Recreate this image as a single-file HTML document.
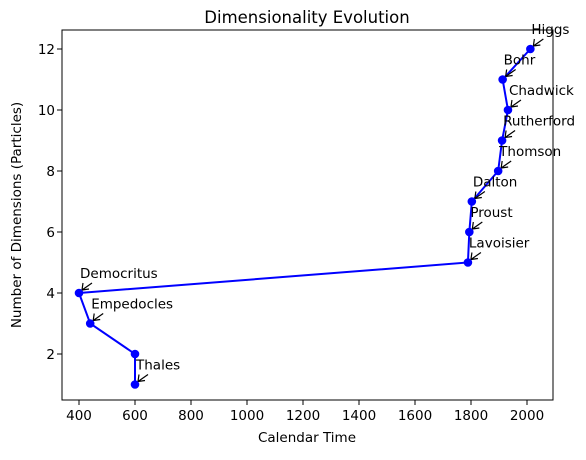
<!DOCTYPE html>
<html><head><meta charset="utf-8"><style>
body{margin:0;background:#fff;font-family:"Liberation Sans","DejaVu Sans",sans-serif;}
</style></head><body>
<svg id="chart" width="586" height="455" xmlns="http://www.w3.org/2000/svg" font-family="DejaVu Sans, Liberation Sans, sans-serif">
<rect width="586" height="455" fill="#fff"/>
<text x="307" y="23" text-anchor="middle" font-size="16.5">Dimensionality Evolution</text>
<text x="307" y="442" text-anchor="middle" font-size="13.5">Calendar Time</text>
<text transform="translate(21,215) rotate(-90)" text-anchor="middle" font-size="13.5">Number of Dimensions (Particles)</text>
<g id="ticks"></g>
<g id="series"></g>
<rect x="62" y="30" width="491" height="370" fill="none" stroke="#000" stroke-width="1"/>
</svg>
<script>
const names=["Thales","","Empedocles","Democritus","Lavoisier","Proust","Dalton","Thomson","Rutherford","Chadwick","Bohr","Higgs"];
const years=[600,600,440,400,1789,1794,1803,1897,1911,1932,1913,2012];
const dims=[1,2,3,4,5,6,7,8,9,10,11,12];
const xTicks=[400,600,800,1000,1200,1400,1600,1800,2000];
const yTicks=[2,4,6,8,10,12];
const X=v=>79+(v-400)*448/1600;
const Y=v=>415-v*30.5;
const NS="http://www.w3.org/2000/svg";
function mk(t,a,p){const e=document.createElementNS(NS,t);for(const k in a)e.setAttribute(k,a[k]);p.appendChild(e);return e;}
const tk=document.getElementById('ticks'),sr=document.getElementById('series');
xTicks.forEach(v=>{const l=mk('line',{x1:X(v),x2:X(v),y1:400,y2:405,stroke:'#000'},tk);


const t=mk('text',{x:X(v),y:420,'text-anchor':'middle','font-size':13.5},tk);t.textContent=v;

});
yTicks.forEach(v=>{const l=mk('line',{x1:57,x2:62,y1:Y(v),y2:Y(v),stroke:'#000'},tk);


const t=mk('text',{x:55,y:Y(v)+5,'text-anchor':'end','font-size':13.5},tk);t.textContent=v;

});
const pl=mk('polyline',{points:years.map((y,i)=>X(y)+','+Y(dims[i])).join(' '),fill:'none',stroke:'#0000ff','stroke-width':2},sr);


years.forEach((y,i)=>{const px=X(y),py=Y(dims[i]);
const c=mk('circle',{cx:px,cy:py,r:4.3,fill:'#0000ff'},sr);


if(!names[i])return;
const t=mk('text',{x:px+1,y:py-15,'font-size':13.5},sr);t.textContent=names[i];


const a=mk('path',{d:`M${px+13},${py-10} L${px+3},${py-3} M${px+3},${py-3} l7,-1 M${px+3},${py-3} l1,-7`,stroke:'#000','stroke-width':1.2,fill:'none'},sr);

});
</script>
</body></html>
